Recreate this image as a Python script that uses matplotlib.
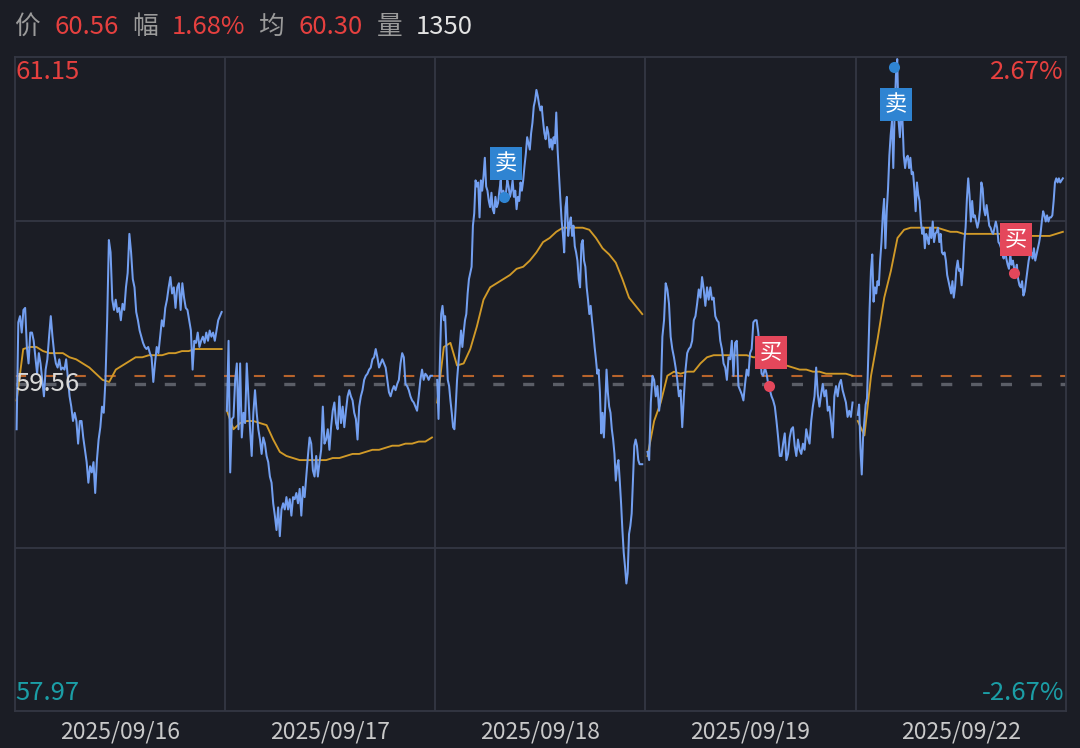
import numpy as np
import matplotlib as mpl
mpl.use('Agg')
import matplotlib.pyplot as plt

plt.rcParams['font.family'] = ['Noto Sans CJK SC', 'DejaVu Sans']
plt.rcParams['lines.scale_dashes'] = False

# --- data -------------------------------------------------------------
dates = ['2025/09/16', '2025/09/17', '2025/09/18', '2025/09/19', '2025/09/22']
prev_close = 59.56
cost_line = 59.60
y_top, y_bottom = 61.15, 57.97

day1_price = [59.34, 59.86, 59.89, 59.81, 59.92, 59.93, 59.74, 59.66, 59.81, 59.81, 59.77, 59.69, 59.61,
              59.71, 59.66, 59.58, 59.50, 59.63, 59.68, 59.79, 59.89, 59.79, 59.71, 59.66, 59.64, 59.68,
              59.63, 59.64, 59.63, 59.68, 59.59, 59.50, 59.45, 59.38, 59.42, 59.38, 59.27, 59.38, 59.38,
              59.30, 59.24, 59.18, 59.08, 59.16, 59.13, 59.18, 59.03, 59.19, 59.29, 59.35, 59.45, 59.42,
              59.58, 59.87, 60.26, 60.20, 59.97, 59.92, 59.97, 59.91, 59.93, 59.87, 59.95, 59.92, 60.03,
              60.10, 60.29, 60.20, 60.07, 60.03, 59.91, 59.87, 59.82, 59.79, 59.76, 59.74, 59.73, 59.74,
              59.71, 59.69, 59.57, 59.66, 59.74, 59.71, 59.79, 59.87, 59.84, 59.93, 59.97, 60.03, 60.08,
              60.00, 60.03, 59.93, 60.03, 60.05, 59.92, 60.05, 59.98, 59.93, 59.92, 59.87, 59.82, 59.63,
              59.77, 59.76, 59.81, 59.74, 59.77, 59.79, 59.76, 59.81, 59.77, 59.82, 59.79, 59.81, 59.77,
              59.82, 59.87, 59.89, 59.91]
day2_price = [59.43, 59.77, 59.13, 59.39, 59.40, 59.58, 59.66, 59.34, 59.66, 59.30, 59.42, 59.37, 59.66,
              59.50, 59.34, 59.21, 59.42, 59.53, 59.42, 59.34, 59.29, 59.22, 59.30, 59.27, 59.21, 59.18,
              59.11, 59.08, 58.98, 58.92, 58.85, 58.96, 58.82, 58.95, 58.98, 58.95, 59.01, 58.95, 59.00,
              58.92, 59.01, 59.00, 59.03, 58.98, 59.05, 58.92, 59.06, 59.01, 59.11, 59.21, 59.30, 59.27,
              59.14, 59.11, 59.21, 59.11, 59.18, 59.24, 59.45, 59.27, 59.29, 59.34, 59.24, 59.35, 59.43,
              59.47, 59.37, 59.34, 59.50, 59.37, 59.45, 59.35, 59.43, 59.50, 59.53, 59.50, 59.48, 59.42,
              59.39, 59.29, 59.45, 59.50, 59.53, 59.58, 59.60, 59.61, 59.63, 59.64, 59.68, 59.69, 59.73,
              59.69, 59.64, 59.66, 59.68, 59.66, 59.64, 59.58, 59.52, 59.50, 59.53, 59.55, 59.53, 59.56,
              59.58, 59.66, 59.71, 59.69, 59.56, 59.55, 59.53, 59.50, 59.48, 59.47, 59.45, 59.43, 59.50,
              59.58, 59.63, 59.58, 59.61, 59.60, 59.58, 59.60, 59.60]
day3_price = [59.58, 59.39, 59.66, 59.90, 59.94, 59.87, 59.89, 59.74, 59.58, 59.55, 59.48, 59.42, 59.35,
              59.34, 59.45, 59.58, 59.66, 59.74, 59.82, 59.74, 59.81, 59.87, 59.90, 60.00, 60.07, 60.10,
              60.13, 60.33, 60.39, 60.55, 60.52, 60.54, 60.37, 60.55, 60.50, 60.57, 60.66, 60.52, 60.50,
              60.45, 60.42, 60.49, 60.41, 60.39, 60.47, 60.42, 60.44, 60.50, 60.55, 60.45, 60.50, 60.47,
              60.49, 60.55, 60.52, 60.47, 60.50, 60.55, 60.47, 60.50, 60.41, 60.47, 60.45, 60.54, 60.50,
              60.55, 60.62, 60.68, 60.76, 60.73, 60.70, 60.78, 60.83, 60.91, 60.94, 60.99, 60.96, 60.92,
              60.89, 60.91, 60.84, 60.78, 60.75, 60.81, 60.78, 60.71, 60.75, 60.70, 60.76, 60.73, 60.88,
              60.70, 60.58, 60.47, 60.36, 60.29, 60.20, 60.42, 60.47, 60.28, 60.34, 60.37, 60.28, 60.33,
              60.23, 60.20, 60.16, 60.07, 60.03, 60.24, 60.26, 60.16, 60.13, 60.03, 59.97, 59.90, 59.94,
              59.87, 59.81, 59.74, 59.68, 59.61, 59.63, 59.52, 59.32, 59.42, 59.30, 59.45, 59.63, 59.52,
              59.45, 59.42, 59.34, 59.29, 59.22, 59.09, 59.16, 59.19, 59.09, 58.98, 58.85, 58.74, 58.67,
              58.59, 58.64, 58.83, 58.87, 58.93, 59.09, 59.26, 59.29, 59.26, 59.19, 59.17, 59.17, 59.17]
day4_price = [59.23, 59.19, 59.47, 59.60, 59.58, 59.50, 59.55, 59.43, 59.50, 59.79, 59.87, 60.05, 60.02,
              59.95, 59.79, 59.73, 59.69, 59.64, 59.58, 59.50, 59.53, 59.35, 59.50, 59.63, 59.71, 59.73,
              59.74, 59.77, 59.87, 59.89, 59.95, 60.02, 59.98, 60.08, 60.02, 59.94, 60.03, 59.97, 60.03,
              59.97, 59.98, 59.89, 59.87, 59.86, 59.77, 59.73, 59.66, 59.64, 59.58, 59.69, 59.68, 59.77,
              59.60, 59.76, 59.77, 59.55, 59.53, 59.51, 59.48, 59.56, 59.63, 59.60, 59.71, 59.73, 59.86,
              59.87, 59.87, 59.81, 59.71, 59.61, 59.60, 59.64, 59.61, 59.56, 59.53, 59.50, 59.48, 59.45,
              59.38, 59.30, 59.21, 59.21, 59.27, 59.32, 59.19, 59.22, 59.30, 59.34, 59.35, 59.26, 59.21,
              59.29, 59.24, 59.22, 59.27, 59.24, 59.34, 59.30, 59.27, 59.38, 59.45, 59.50, 59.64, 59.51,
              59.45, 59.51, 59.56, 59.50, 59.53, 59.43, 59.45, 59.38, 59.30, 59.50, 59.55, 59.50, 59.56,
              59.58, 59.53, 59.50, 59.47, 59.40, 59.43, 59.40, 59.47]
day5_price = [59.41, 59.46, 59.25, 59.12, 59.30, 59.38, 59.46, 59.49, 59.70, 59.93, 60.11, 60.19, 59.96,
              60.03, 60.00, 60.06, 60.04, 60.16, 60.25, 60.38, 60.46, 60.22, 60.40, 60.51, 60.67, 60.77,
              60.84, 60.61, 60.87, 61.06, 61.14, 60.84, 60.76, 60.87, 60.84, 60.67, 60.61, 60.66, 60.67,
              60.61, 60.66, 60.58, 60.59, 60.51, 60.40, 60.54, 60.48, 60.45, 60.35, 60.29, 60.32, 60.22,
              60.29, 60.27, 60.24, 60.32, 60.27, 60.35, 60.25, 60.29, 60.30, 60.32, 60.25, 60.29, 60.20,
              60.19, 60.20, 60.16, 60.09, 60.06, 60.03, 60.00, 60.06, 59.98, 60.03, 60.12, 60.16, 60.11,
              60.12, 60.04, 60.12, 60.25, 60.32, 60.46, 60.56, 60.48, 60.35, 60.45, 60.37, 60.38, 60.35,
              60.32, 60.35, 60.41, 60.54, 60.51, 60.41, 60.38, 60.43, 60.38, 60.33, 60.32, 60.30, 60.29,
              60.32, 60.35, 60.32, 60.25, 60.24, 60.22, 60.19, 60.17, 60.22, 60.17, 60.14, 60.12, 60.19,
              60.14, 60.16, 60.12, 60.11, 60.14, 60.07, 60.04, 60.03, 60.06, 59.99, 60.01, 60.06, 60.11,
              60.16, 60.19, 60.20, 60.17, 60.22, 60.16, 60.19, 60.22, 60.25, 60.29, 60.35, 60.40, 60.38,
              60.35, 60.38, 60.35, 60.37, 60.37, 60.38, 60.45, 60.54, 60.56, 60.54, 60.56, 60.54, 60.55,
              60.56]

day1_avg = [59.48, 59.73, 59.74, 59.74, 59.72, 59.71, 59.71, 59.71, 59.69, 59.68, 59.66, 59.64, 59.61,
            59.58, 59.57, 59.63, 59.65, 59.67, 59.69, 59.69, 59.70, 59.70, 59.70, 59.71, 59.71, 59.72,
            59.72, 59.73, 59.73, 59.73, 59.73, 59.73]
day2_avg = [59.43, 59.34, 59.37, 59.38, 59.38, 59.37, 59.36, 59.29, 59.23, 59.21, 59.20, 59.19, 59.19,
            59.19, 59.19, 59.19, 59.20, 59.20, 59.21, 59.22, 59.22, 59.23, 59.24, 59.24, 59.25, 59.26,
            59.26, 59.27, 59.27, 59.28, 59.28, 59.30]
day3_avg = [59.47, 59.74, 59.76, 59.65, 59.66, 59.73, 59.84, 59.97, 60.03, 60.05, 60.07, 60.09, 60.12,
            60.13, 60.16, 60.20, 60.25, 60.27, 60.30, 60.32, 60.32, 60.32, 60.32, 60.31, 60.27, 60.22,
            60.19, 60.15, 60.07, 59.98, 59.94, 59.90]
day4_avg = [59.21, 59.38, 59.47, 59.60, 59.62, 59.61, 59.62, 59.62, 59.66, 59.69, 59.70, 59.70, 59.70,
            59.70, 59.70, 59.70, 59.69, 59.69, 59.68, 59.67, 59.66, 59.65, 59.64, 59.63, 59.63, 59.62,
            59.62, 59.61, 59.61, 59.61, 59.61, 59.60]
day5_avg = [59.38, 59.31, 59.60, 59.78, 59.98, 60.11, 60.27, 60.31, 60.32, 60.32, 60.32, 60.32, 60.32,
            60.31, 60.30, 60.30, 60.29, 60.29, 60.29, 60.29, 60.29, 60.29, 60.29, 60.29, 60.29, 60.28,
            60.28, 60.28, 60.28, 60.28, 60.29, 60.30]

prices = [day1_price, day2_price, day3_price, day4_price, day5_price]
avgs = [day1_avg, day2_avg, day3_avg, day4_avg, day5_avg]

# trade signals: (day, minute of session, price, label)
signal_day = [2, 4, 3, 4]
signal_minute = [78, 42, 142, 183]
signal_price = [60.47, 61.10, 59.55, 60.10]
signal_kind = ['卖', '卖', '买', '买']

# --- style ------------------------------------------------------------
bg = '#1b1d25'
grid_c = '#343743'
red = '#e5403f'
teal = '#1b9ea6'
blue_line = '#739ff0'
gold = '#d19a28'
sell_c = '#2f84d2'
buy_c = '#e4475b'


def to_x(day, minute):
    return day + 0.01 + np.asarray(minute) / 240.0 * 0.975


fig = plt.figure(figsize=(10.8, 7.48), dpi=100, facecolor=bg)
ax = fig.add_axes([14.5 / 1080, 1 - 711 / 748, (1066 - 14.5) / 1080, (711 - 57) / 748])
ax.set_facecolor(bg)
ax.set_xlim(0, 5)
ax.set_ylim(y_bottom, y_top)
ax.set_xticks([])
ax.set_yticks([])
for s in ax.spines.values():
    s.set_color(grid_c)
    s.set_linewidth(1.3)

quarter = (y_top - y_bottom) / 4
for yv in (y_top - quarter, y_bottom + quarter):
    ax.axhline(yv, color=grid_c, lw=1.3, zorder=1)
for d in range(1, 5):
    ax.axvline(d, color=grid_c, lw=1.3, zorder=1)

ax.axhline(prev_close, color='#5b5e67', lw=2.4, dashes=(8, 13.5), zorder=2)
ax.axhline(cost_line, color='#b8642c', lw=1.5, dashes=(8, 13.5), zorder=2)

for d in range(5):
    p = prices[d]
    a = avgs[d]
    ax.plot(to_x(d, np.linspace(0, 240, len(p))), p, color=blue_line, lw=1.45, zorder=4)
    ax.plot(to_x(d, np.linspace(0, 240, len(a))), a, color=gold, lw=1.35, zorder=3)

for d, m, pr, k in zip(signal_day, signal_minute, signal_price, signal_kind):
    c = sell_c if k == '卖' else buy_c
    xx = to_x(d, m)
    ax.plot(xx, pr, 'o', color=c, ms=8, mec='none', zorder=6)
    off = -27 if (k == '卖' and pr > 61) else 24
    ax.annotate(k, (xx, pr), xytext=(1.5, off), textcoords='offset points',
                ha='center', va='center', color='white', fontsize=16, zorder=7,
                bbox=dict(boxstyle='square,pad=0.22', fc=c, ec='none'))

# axis labels inside the plot
lab_fs = 18.5
ax.text(0.001, 0.997, '61.15', transform=ax.transAxes, ha='left', va='top', color=red, fontsize=lab_fs)
ax.text(0.001, 0.5, '59.56', transform=ax.transAxes, ha='left', va='center', color='#d8d8d8',
        fontsize=lab_fs, zorder=8)
ax.text(0.001, 0.008, '57.97', transform=ax.transAxes, ha='left', va='bottom', color=teal, fontsize=lab_fs)
ax.text(0.998, 0.997, '2.67%', transform=ax.transAxes, ha='right', va='top', color=red, fontsize=lab_fs)
ax.text(0.998, 0.008, '-2.67%', transform=ax.transAxes, ha='right', va='bottom', color=teal, fontsize=lab_fs)

for d, lab in enumerate(dates):
    ax.text(d + 0.5, -0.032, lab, transform=ax.get_xaxis_transform(), ha='center', va='center',
            color='#c9c9c9', fontsize=16.5)

# header line
header = [('价', '#9b9b9b', 14), ('60.56', red, 54), ('幅', '#9b9b9b', 132), ('1.68%', red, 172),
          ('均', '#9b9b9b', 258), ('60.30', red, 298), ('量', '#9b9b9b', 377), ('1350', '#e2e2e2', 416)]
for txt, col, px in header:
    fig.text(px / 1080, 1 - 27 / 748, txt, ha='left', va='center', color=col, fontsize=18.5)

fig.savefig('out.png', dpi=100, facecolor=bg)
